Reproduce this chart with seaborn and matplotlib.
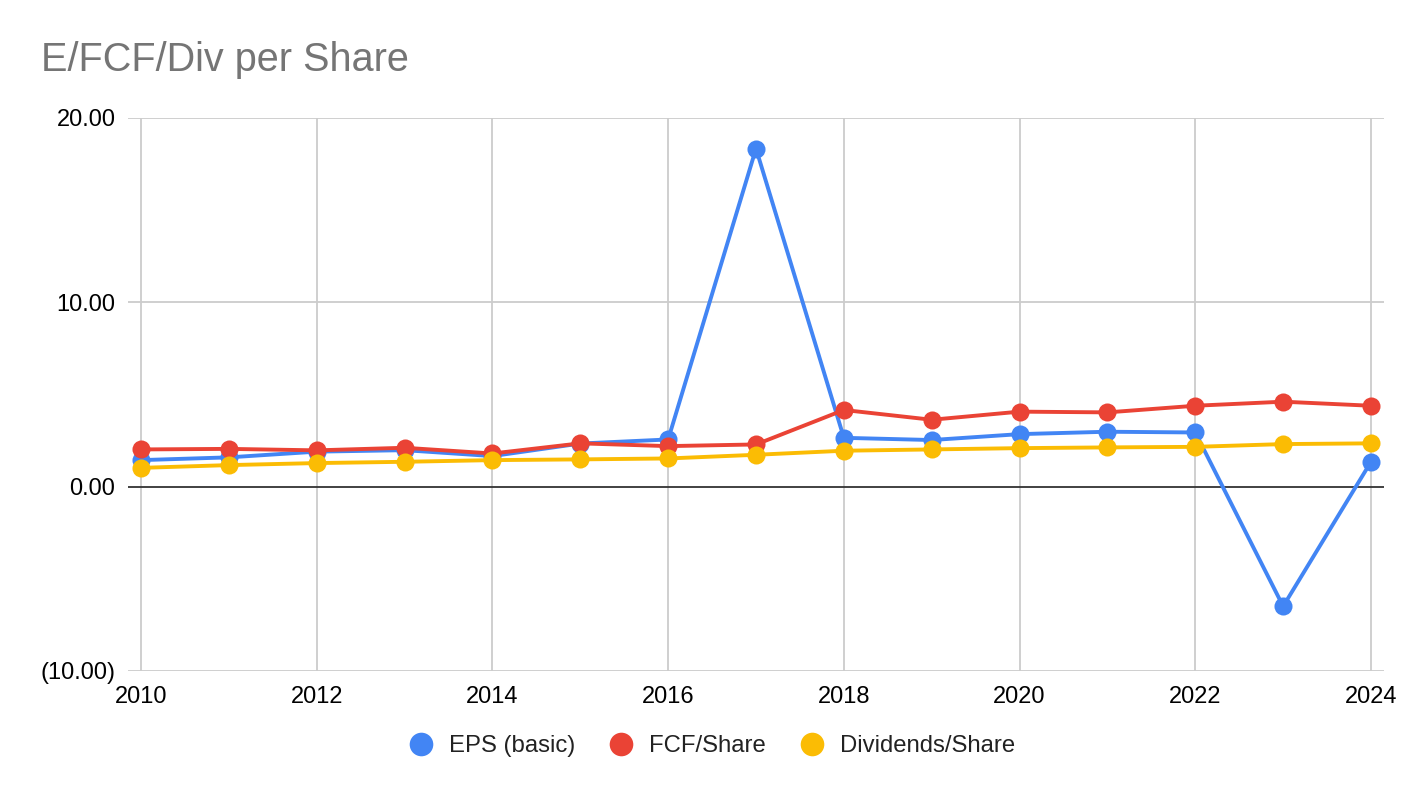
import matplotlib
matplotlib.use("Agg")
from matplotlib import pyplot as plt
import matplotlib.ticker as plticker
from matplotlib.lines import Line2D
import seaborn as sns
import pandas as pd

years = list(range(2010, 2025))
eps_basic = [1.44, 1.59, 1.90, 1.98, 1.66, 2.34, 2.56, 18.34, 2.65, 2.53, 2.85, 2.98, 2.94, -6.49, 1.35]
fcf_share = [2.02, 2.05, 1.97, 2.11, 1.80, 2.35, 2.20, 2.29, 4.16, 3.63, 4.07, 4.03, 4.39, 4.61, 4.39]
div_share = [1.02, 1.17, 1.28, 1.35, 1.44, 1.48, 1.53, 1.73, 1.95, 2.02, 2.09, 2.13, 2.16, 2.31, 2.35]
series_names = ["EPS (basic)", "FCF/Share", "Dividends/Share"]
colors = ["#4285F4", "#EA4335", "#FBBC04"]

df = pd.DataFrame({
    "Year": years * 3,
    "Value": eps_basic + fcf_share + div_share,
    "Series": [series_names[0]] * len(years) + [series_names[1]] * len(years) + [series_names[2]] * len(years),
})

sns.set_theme(style="white")
plt.rcParams['font.family'] = ['Liberation Sans', 'DejaVu Sans']

fig = plt.figure(figsize=(14.24, 7.98), dpi=100)
ax = fig.add_axes([128 / 1424, 1 - 671 / 798, (1384 - 128) / 1424, (671 - 118) / 798])

# grid first so lines sit on top
for y in [-10, 10, 20]:
    ax.axhline(y, color="#cccccc", linewidth=1.3, zorder=0)
for x in range(2010, 2025, 2):
    ax.axvline(x, color="#cccccc", linewidth=1.3, zorder=0)
ax.axhline(0, color="#333333", linewidth=1.3, zorder=1)

sns.lineplot(data=df, x="Year", y="Value", hue="Series", palette=dict(zip(series_names, colors)),
             marker="o", markersize=13, markeredgewidth=0, linewidth=2.8, dashes=False,
             legend=False, ax=ax, zorder=3)

ax.set_xlim(2010 - 13 / 87.86, 2024 + 13 / 87.86)
ax.set_ylim(-10, 20)
ax.xaxis.set_major_locator(plticker.MultipleLocator(2))
ax.yaxis.set_major_locator(plticker.MultipleLocator(10))
ax.yaxis.set_major_formatter(plticker.FuncFormatter(
    lambda v, p: "({:.2f})".format(-v) if v < 0 else "{:.2f}".format(v)))
ax.tick_params(axis="both", length=0, labelsize=17, colors="#000000")
ax.tick_params(axis="y", pad=9)
ax.tick_params(axis="x", pad=11)
ax.set_xlabel("")
ax.set_ylabel("")
for s in ax.spines.values():
    s.set_visible(False)

fig.text(41 / 1424, 1 - 71 / 798, "E/FCF/Div per Share", fontsize=28.5, color="#757575",
         ha="left", va="baseline")

handles = [Line2D([], [], linestyle="none", marker="o", markersize=17, markeredgewidth=0, color=c)
           for c in colors]
fig.legend(handles, series_names, loc="center", bbox_to_anchor=(0.5, 1 - 746 / 798), ncol=3,
           frameon=False, fontsize=17.2, handletextpad=0.69, columnspacing=1.4, handlelength=1.0,
           labelcolor="#222222")

fig.savefig("out.png", dpi=100, facecolor="white")
